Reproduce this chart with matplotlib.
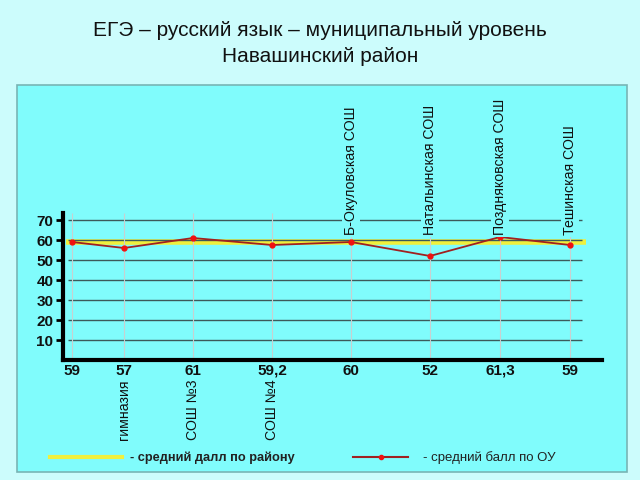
import matplotlib
matplotlib.use("Agg")
import matplotlib.pyplot as plt
from matplotlib.patches import Rectangle
from matplotlib.lines import Line2D

plt.rcParams["font.family"] = ["Liberation Sans", "DejaVu Sans"]

# data
schools = ["", "гимназия", "СОШ №3", "СОШ №4", "Б-Окуловская СОШ",
           "Натальинская СОШ", "Поздняковская СОШ", "Тешинская СОШ"]
value_labels = ["59", "57", "61", "59,2", "60", "52", "61,3", "59"]
scores = [59, 56, 61, 57.5, 59, 52, 61.5, 57.5]
district_avg = 59
yticks = [10, 20, 30, 40, 50, 60, 70]

# layout (pixel-based x positions of the categories)
x_pos = [72, 124, 193, 272, 351, 430, 500, 570]
label_top = [False, False, False, False, True, True, True, True]

W, H = 640, 480
fig = plt.figure(figsize=(6.4, 4.8), dpi=100)
fig.patch.set_facecolor("#ccfcfc")

# panel
panel = Rectangle((17 / W, 1 - 472 / H), 610 / W, 387 / H, transform=fig.transFigure,
                  facecolor="#80fcfc", edgecolor="#78b4b4", lw=1.2, zorder=-5)
fig.patches.append(panel)

fig.text(0.5, 1 - 31 / H, "ЕГЭ – русский язык – муниципальный уровень",
         ha="center", va="center", fontsize=15, color="#111")
fig.text(0.5, 1 - 57 / H, "Навашинский район",
         ha="center", va="center", fontsize=15, color="#111")

# axes: left at y-axis (x=63px), bottom at y=360px
ax = fig.add_axes([63 / W, 1 - 360 / H, (602 - 63) / W, (360 - 213) / H])
ax.set_zorder(2)
ax.set_facecolor("none")
ax.set_xlim(63, 602)
ax.set_ylim(0, 73.5)

for s in ["top", "right"]:
    ax.spines[s].set_visible(False)
ax.spines["left"].set_linewidth(3)
ax.spines["bottom"].set_linewidth(3)

ax.set_yticks(yticks)
ax.set_yticklabels([str(t) for t in yticks], fontsize=11, fontweight="bold", color="#111")
ax.tick_params(axis="y", length=5, width=2, pad=2)
ax.set_xticks([])

# grid
ax.hlines(yticks, 68, 582, color="#3c5a5a", lw=1, zorder=1)
ax.vlines(x_pos, 0, 73.5, color="#c8d0d0", lw=0.8, zorder=1)

ax.plot([66, 586], [district_avg, district_avg], color="#f0f03c", lw=4, zorder=0.5,
        solid_capstyle="butt")
ax.plot(x_pos, scores, color="#a02020", lw=1.3, zorder=3)
ax.plot(x_pos, scores, "o", color="#f01010", ms=3.5, zorder=4)

for x, v in zip(x_pos, value_labels):
    ax.text(x, -7.3, v, ha="center", va="baseline", fontsize=11, fontweight="bold",
            color="#111", clip_on=False)

for x, name, top in zip(x_pos, schools, label_top):
    if not name:
        continue
    if top:
        ax.text(x, 62.5, name, rotation=90, ha="center", va="bottom", fontsize=10.2,
                color="#111", clip_on=False, zorder=5,
                bbox=dict(boxstyle="square,pad=0.15", fc="#80fcfc", ec="none"))
    else:
        ax.text(x, -9.5, name, rotation=90, ha="center", va="top", fontsize=10.2,
                color="#111", clip_on=False)

# legend
fig.add_artist(Line2D([50 / W, 122 / W], [1 - 457 / H] * 2, color="#f0f03c", lw=3))
fig.text(130 / W, 1 - 458 / H, "- средний далл по району", ha="left", va="center",
         fontsize=9.2, fontweight="bold", color="#222")
fig.add_artist(Line2D([353 / W, 408 / W], [1 - 457 / H] * 2, color="#a02020", lw=1.5))
fig.add_artist(Line2D([381 / W], [1 - 457 / H], marker="o", color="#f01010", ms=3))
fig.text(423 / W, 1 - 458 / H, "- средний балл по ОУ", ha="left", va="center",
         fontsize=9.5, color="#222")

fig.savefig("out.png", dpi=100, facecolor=fig.get_facecolor())
